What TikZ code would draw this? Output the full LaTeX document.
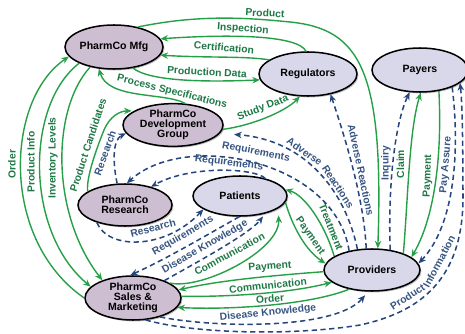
\documentclass[tikz,border=0pt]{standalone}
\usepackage{fontspec}
\setmainfont{Liberation Sans}
\usetikzlibrary{shapes.geometric,arrows.meta,shadows}
\newcommand{\lblfnt}{\fontsize{8.8}{9}\selectfont\bfseries}
\newcommand{\nodefnt}{\fontsize{9}{8.7}\selectfont\bfseries}
\definecolor{gcol}{RGB}{38,160,72}
\definecolor{glabc}{RGB}{30,120,70}
\definecolor{bcol}{RGB}{38,70,125}
\definecolor{blabc}{RGB}{55,85,130}
\definecolor{phfill}{RGB}{206,190,210}
\definecolor{otfill}{RGB}{216,216,234}
\tikzset{
 ent/.style={ellipse, draw=black, line width=1.3pt, inner sep=0pt, font=\nodefnt, align=center,
   drop shadow={shadow xshift=1.2pt, shadow yshift=-1.2pt, fill=black, opacity=.25}},
 ph/.style={ent, fill=phfill},
 ot/.style={ent, fill=otfill},
 gline/.style={draw=gcol, line width=1.2pt, -{Stealth[length=6.5pt,width=5.5pt]}},
 bline/.style={draw=bcol, line width=1.3pt, dash pattern=on 4.5pt off 3pt, -{Stealth[length=6.5pt,width=5.5pt]}},
 glab/.style={text=glabc, font=\lblfnt, inner sep=0pt},
 blab/.style={text=blabc, font=\lblfnt, inner sep=0pt},
}
\begin{document}
\begin{tikzpicture}[x=0.03cm, y=-0.03cm]
\useasboundingbox (0,0) rectangle (465,334);
% entities
\node[ph, minimum width=2.94cm, minimum height=1.32cm] (mfg) at (114,47) {PharmCo Mfg};
\node[ot, minimum width=2.94cm, minimum height=1.32cm] (reg) at (308,74) {Regulators};
\node[ot, minimum width=2.88cm, minimum height=1.32cm] (pay) at (420,70) {Payers};
\node[ph, minimum width=3.0cm, minimum height=1.2cm] (dev) at (173,125) {PharmCo\\Development\\Group};
\node[ph, minimum width=2.82cm, minimum height=1.26cm] (res) at (125,205) {PharmCo\\Research};
\node[ot, minimum width=2.82cm, minimum height=1.2cm] (pat) at (240,196) {Patients};
\node[ph, minimum width=2.88cm, minimum height=1.32cm] (sal) at (133,298) {PharmCo\\Sales \&\\Marketing};
\node[ot, minimum width=2.88cm, minimum height=1.26cm] (pro) at (372,270) {Providers};

% ---------- green flows ----------
\draw[gline] (mfg.40) .. controls (200,14) and (250,18) .. (290,22) .. controls (360,29) and (384,70) .. (pro.75);
\node[glab, rotate=-3] (lprod) at (265,13) {Product};
\draw[gline] (reg.95) .. controls (298,35) and (230,34) .. (mfg.10);
\node[glab, rotate=-4] (linsp) at (243,29) {Inspection};
\draw[gline] (reg.160) .. controls (245,56) and (210,58) .. (mfg.-10);
\node[glab, rotate=-5] (lcert) at (224,47.5) {Certification};
\draw[gline] (mfg.-48) .. controls (150,82) and (210,82) .. (reg.187);
\node[glab, rotate=-3] (lpdata) at (207,72) {Production Data};
\draw[gline] (dev.60) .. controls (165,92) and (108,100) .. (mfg.-125);
\node[glab, rotate=-14] (lpspec) at (172,92) {Process Specifications};
\draw[gline] (dev.-5) .. controls (250,126) and (285,112) .. (reg.-110);
\node[glab, rotate=21] (lstudy) at (263,108) {Study Data};
\draw[gline, shorten >=2pt] (res.160) .. controls (86,178) and (96,150) .. (104,130) .. controls (110,116) and (120,111) .. (dev.160);
\node[glab, rotate=72] (lpcand) at (88,145) {Product Candidates};
\draw[gline] (sal.180) .. controls (0,240) and (5,100) .. (mfg.-168);
\node[glab, rotate=90] (lorder1) at (12,164) {Order};
\draw[gline] (mfg.-155) .. controls (25,105) and (25,232) .. (sal.165);
\node[glab, rotate=90] (lpinfo) at (31,162) {Product Info};
\draw[gline] (mfg.-140) .. controls (51,110) and (51,214) .. (sal.150);
\node[glab, rotate=90] (linv) at (53,158) {Inventory Levels};
\draw[gline, shorten >=6pt] (sal.22) .. controls (203,290) and (280,250) .. (pat.-18);
\node[glab, rotate=28] (lcomm1) at (229.5,254) {Communication};
\draw[gline] (pat.-8) .. controls (292,225) and (305,250) .. (pro.172);
\node[glab, rotate=-55] (lpay1) at (310,236) {Payment};
\draw[gline] (pro.160) .. controls (325,225) and (305,195) .. (pat.8);
\node[glab, rotate=-68] (ltreat) at (331,227) {Treatment};
\draw[gline] (pro.182) .. controls (280,275) and (220,280) .. (sal.10);
\node[glab, rotate=4] (lpay2) at (270,267) {Payment};
\draw[gline] (sal.2) .. controls (230,297) and (290,293) .. (pro.197);
\node[glab, rotate=6] (lcomm2) at (268,285.5) {Communication};
\draw[gline] (pro.-140) .. controls (310,305) and (230,310) .. (sal.-12);
\node[glab, rotate=5] (lorder2) at (270,299) {Order};
\draw[gline] (pro.28) .. controls (408,200) and (409,130) .. (pay.-88);
\node[glab, rotate=90] (lclaim) at (400.5,164) {Claim};
\draw[gline] (pay.-48) .. controls (442,150) and (436,215) .. (pro.18);
\node[glab, rotate=88] (lpay3) at (428,176) {Payment};

% ---------- blue dashed flows ----------
\draw[bline] (res.110) .. controls (113,165) and (112,140) .. (dev.190);
\node[blab, rotate=70] (lres1) at (105,153) {Research};
\draw[bline] (pro.140) .. controls (335,160) and (185,130) .. (res.85);
\node[blab, rotate=-11] (lreq1) at (256,152) {Requirements};
\draw[bline] (pat.35) .. controls (255,168) and (190,165) .. (res.35);
\node[blab, rotate=-7] (lreq2) at (229,163) {Requirements};
\draw[bline, shorten >=12pt] (pro.125) .. controls (345,190) and (305,140) .. (dev.-10);
\node[blab, anchor=base, rotate=-35] (ladv1a) at (302.5,154.5) {Adverse};
\node[blab, anchor=base, rotate=-57] (ladv1b) at (335,188.7) {Reactions};
\draw[bline] (pro.105) .. controls (364,200) and (346,140) .. (reg.-42);
\node[blab, rotate=-78] (ladv2) at (361,170) {Adverse Reactions};
\draw[bline] (pro.48) .. controls (388,190) and (394,125) .. (pay.-115);
\node[blab, rotate=90] (linq) at (386,163) {Inquiry};
\draw[bline] (pay.-28) .. controls (460,150) and (455,225) .. (pro.8);
\node[blab, rotate=85] (lpas) at (446,165) {Pay Assure};
\draw[bline] (res.-148) .. controls (108,250) and (165,250) .. (pat.-160);
\node[blab, rotate=15] (lres2) at (153,228) {Research};
\draw[bline] (pat.-92) .. controls (205,236) and (168,258) .. (sal.97);
\node[blab, rotate=30] (lreq3) at (183,236) {Requirements};
\draw[bline, shorten >=3pt] (sal.29) .. controls (192.2,264.8) and (249.5,234) .. (pat.-35);
\node[blab, rotate=30] (ldk1) at (205,247) {Disease Knowledge};
\draw[bline, shorten >=4pt] (sal.-35) .. controls (215,328) and (335,330) .. (pro.-100);
\node[blab, rotate=6] (ldk2) at (268,313) {Disease Knowledge};
\draw[bline] (sal.-60) .. controls (200,335) and (300,335) .. (360,325) .. controls (420,312) and (462,280) .. (463,200) .. controls (463,140) and (462,100) .. (pay.-18);
\node[blab, anchor=base, rotate=33] (lpi1) at (409.5,299.8) {Product};
\node[blab, anchor=base, rotate=62] (lpi2) at (442.3,263.3) {Information};
\end{tikzpicture}
\end{document}
